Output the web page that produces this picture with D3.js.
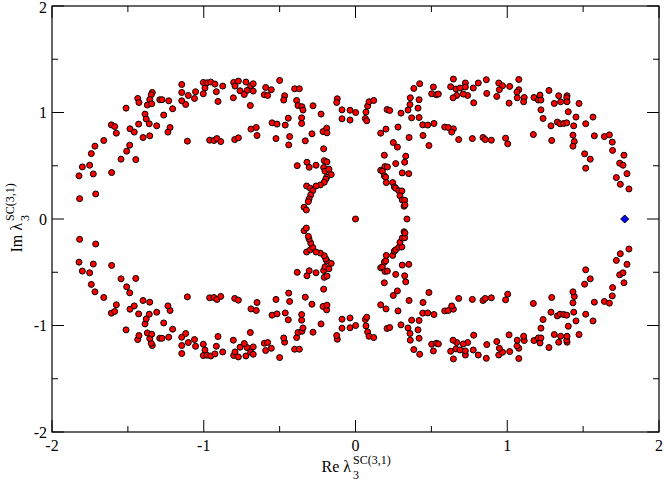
<!DOCTYPE html>
<html><head><meta charset="utf-8">
<script src="https://cdn.jsdelivr.net/npm/d3@7/dist/d3.min.js"></script>
<style>body{margin:0;background:#fff}svg{display:block}</style>
</head><body>
<svg id="chart" width="664" height="482"></svg>
<script>
// eigenvalues with Im > 0
const reUpper=[
-1.145,-1.339,-1.346,-1.435,-1.427,-1.356,-1.290,-1.275,-1.231,-1.372,
-1.343,-1.145,-1.102,-1.054,-1.061,-1.145,-1.119,-1.512,-1.205,-1.387,
-1.264,-1.379,-1.609,-1.587,-1.429,-1.359,-1.310,-1.222,-1.236,-1.486,
-1.458,-1.576,-1.400,-1.356,-1.659,-1.717,-1.488,-1.108,-1.741,-1.508,
-1.545,-1.448,-1.800,-1.752,-1.822,-1.728,-1.607,-1.712,-1.818,
-1.003,-0.979,-0.954,-0.926,-0.992,-1.003,-0.917,-0.906,-0.875,-0.803,
-0.772,-0.794,-0.722,-0.691,-0.674,-0.761,-0.715,-0.733,-0.674,-0.805,
-0.693,-0.592,-0.555,-0.601,-0.579,-0.500,-0.401,-0.370,-0.467,-0.473,
-0.388,-0.379,-0.353,-0.346,-0.280,-0.227,-0.120,-0.124,-0.089,-0.089,
-0.036,-0.036,-0.443,-0.355,-0.355,-0.550,-0.517,-0.463,-0.689,-0.654,
-0.649,-0.524,-0.434,-0.440,-0.331,-0.287,-0.214,-0.190,-0.188,-0.210,
-0.961,-0.933,-0.913,-0.888,-0.796,-0.772,
0.001,0.069,0.065,0.074,0.080,0.089,0.120,0.208,0.225,0.300,
0.384,0.423,0.361,0.359,0.419,0.412,0.346,0.370,0.419,0.443,
0.476,0.517,0.513,0.502,0.533,0.546,0.645,0.627,0.662,0.689,
0.724,0.724,0.739,0.710,0.667,0.643,0.776,0.809,0.862,0.865,
0.779,0.931,0.944,0.969,0.948,0.588,0.612,0.645,0.634,0.680,
0.770,0.840,0.855,0.895,0.989,0.166,0.201,0.280,0.353,0.445,
0.249,0.276,0.484,
1.016,1.076,1.076,1.064,1.066,1.012,1.112,1.108,1.176,1.205,
1.216,1.222,1.275,1.339,1.394,1.392,1.352,1.394,1.310,1.473,
1.222,1.402,1.236,1.453,1.565,1.330,1.348,1.372,1.392,1.288,
1.438,1.517,1.172,1.433,1.442,1.433,1.293,1.574,1.640,1.673,
1.692,1.003,1.694,1.510,1.547,1.517,1.769,1.741,1.763,1.789,
1.719,1.745,1.802,
-0.320,-0.384,-0.305,-0.260,-0.206,-0.188,-0.210,-0.201,-0.175,-0.160,
-0.190,-0.196,-0.206,-0.232,-0.260,-0.322,-0.298,-0.282,-0.295,-0.306,
-0.311,-0.339,-0.324,
0.190,0.331,0.324,0.265,0.194,0.210,0.166,0.177,0.308,0.351,
0.190,0.199,0.203,0.245,0.256,0.265,0.285,0.306,0.293,0.308,
0.324,0.320,0.326];
const imUpper=[
1.263,1.188,1.167,1.132,1.094,1.122,1.120,1.120,1.110,1.070,
1.082,1.188,1.160,1.195,1.132,1.110,1.075,1.041,1.035,0.985,
0.976,0.938,0.884,0.868,0.891,0.894,0.875,0.859,0.816,0.847,
0.816,0.806,0.765,0.781,0.737,0.684,0.693,0.731,0.614,0.637,
0.562,0.558,0.489,0.505,0.405,0.423,0.436,0.235,0.191,
1.282,1.279,1.286,1.267,1.230,1.176,1.195,1.104,1.248,1.282,
1.295,1.248,1.286,1.251,1.270,1.204,1.207,1.169,1.201,1.138,
1.066,1.235,1.214,1.167,1.160,1.301,1.223,1.223,1.157,1.117,
1.113,1.066,1.054,1.023,1.063,0.985,1.129,1.094,1.025,0.941,
1.021,0.929,0.947,0.950,0.897,0.903,0.891,0.882,0.844,0.859,
0.784,0.755,0.774,0.696,0.734,0.800,0.821,0.853,0.809,0.659,
0.740,0.737,0.755,0.727,0.746,0.762,
1.000,1.004,0.944,0.922,1.060,1.101,1.113,1.028,1.019,0.994,
1.226,1.270,1.138,1.075,1.120,1.041,1.023,0.950,0.953,0.884,
0.882,0.897,1.239,1.176,1.167,1.173,1.314,1.242,1.220,1.230,
1.277,1.239,1.160,1.173,1.160,1.138,1.230,1.277,1.308,1.179,
1.091,1.151,1.277,1.251,1.214,0.863,0.859,0.847,0.816,0.746,
0.755,0.765,0.746,0.740,0.759,0.806,0.844,0.863,0.765,0.784,
0.718,0.675,0.690,
1.245,1.310,1.214,1.192,1.138,1.088,1.141,1.101,1.141,1.117,
1.164,1.117,1.207,1.157,1.157,1.138,1.101,1.101,1.085,1.085,
1.025,1.007,0.944,0.957,0.957,0.910,0.894,0.897,0.903,0.875,
0.875,0.894,0.793,0.787,0.727,0.684,0.737,0.781,0.774,0.790,
0.722,0.706,0.644,0.612,0.562,0.477,0.599,0.524,0.505,0.426,
0.389,0.326,0.282,
0.533,0.501,0.486,0.505,0.548,0.536,0.483,0.449,0.468,0.417,
0.392,0.374,0.345,0.320,0.310,0.310,0.289,0.266,0.226,0.188,
0.163,0.110,0.085,
0.599,0.590,0.533,0.520,0.492,0.489,0.458,0.449,0.433,0.426,
0.405,0.392,0.342,0.342,0.301,0.289,0.266,0.263,0.219,0.179,
0.176,0.120,0.132];
// eigenvalues with Im < 0 (complex conjugate partners)
const reLower=[
-1.145,-1.339,-1.346,-1.435,-1.427,-1.356,-1.290,-1.275,-1.231,-1.372,
-1.343,-1.145,-1.102,-1.054,-1.061,-1.145,-1.119,-1.512,-1.205,-1.387,
-1.264,-1.379,-1.609,-1.587,-1.429,-1.359,-1.310,-1.222,-1.236,-1.486,
-1.458,-1.576,-1.400,-1.356,-1.659,-1.717,-1.488,-1.108,-1.741,-1.508,
-1.545,-1.448,-1.800,-1.752,-1.822,-1.728,-1.607,-1.712,-1.818,
-1.003,-0.979,-0.954,-0.926,-0.992,-1.003,-0.917,-0.906,-0.875,-0.803,
-0.772,-0.794,-0.722,-0.691,-0.674,-0.761,-0.715,-0.733,-0.674,-0.805,
-0.693,-0.592,-0.555,-0.601,-0.579,-0.500,-0.401,-0.370,-0.467,-0.473,
-0.388,-0.379,-0.353,-0.346,-0.280,-0.227,-0.120,-0.124,-0.089,-0.089,
-0.036,-0.036,-0.443,-0.355,-0.355,-0.550,-0.517,-0.463,-0.689,-0.654,
-0.649,-0.524,-0.434,-0.440,-0.331,-0.287,-0.214,-0.190,-0.188,-0.210,
-0.961,-0.933,-0.913,-0.888,-0.796,-0.772,
0.001,0.069,0.065,0.074,0.080,0.089,0.120,0.208,0.225,0.300,
0.384,0.423,0.361,0.359,0.419,0.412,0.346,0.370,0.419,0.443,
0.476,0.517,0.513,0.502,0.533,0.546,0.645,0.627,0.662,0.689,
0.724,0.724,0.739,0.710,0.667,0.643,0.776,0.809,0.862,0.865,
0.779,0.931,0.944,0.969,0.948,0.588,0.612,0.645,0.634,0.680,
0.770,0.840,0.855,0.895,0.989,0.166,0.201,0.280,0.353,0.445,
0.249,0.276,0.484,
1.016,1.076,1.076,1.064,1.066,1.012,1.112,1.108,1.176,1.205,
1.216,1.222,1.275,1.339,1.394,1.392,1.352,1.394,1.310,1.473,
1.222,1.402,1.236,1.453,1.565,1.330,1.348,1.372,1.392,1.288,
1.438,1.517,1.172,1.433,1.442,1.433,1.293,1.574,1.640,1.673,
1.692,1.003,1.694,1.510,1.547,1.517,1.769,1.741,1.763,1.789,
1.719,1.745,1.802,
-0.320,-0.384,-0.305,-0.260,-0.206,-0.188,-0.210,-0.201,-0.175,-0.160,
-0.190,-0.196,-0.206,-0.232,-0.260,-0.322,-0.298,-0.282,-0.295,-0.306,
-0.311,-0.339,-0.324,
0.190,0.331,0.324,0.265,0.194,0.210,0.166,0.177,0.308,0.351,
0.190,0.199,0.203,0.245,0.256,0.265,0.285,0.306,0.293,0.308,
0.324,0.320,0.326];
const imLower=[
-1.263,-1.188,-1.167,-1.132,-1.094,-1.122,-1.120,-1.120,-1.110,-1.070,
-1.082,-1.188,-1.160,-1.195,-1.132,-1.110,-1.075,-1.041,-1.035,-0.985,
-0.976,-0.938,-0.884,-0.868,-0.891,-0.894,-0.875,-0.859,-0.816,-0.847,
-0.816,-0.806,-0.765,-0.781,-0.737,-0.684,-0.693,-0.731,-0.614,-0.637,
-0.562,-0.558,-0.489,-0.505,-0.405,-0.423,-0.436,-0.235,-0.191,
-1.282,-1.279,-1.286,-1.267,-1.230,-1.176,-1.195,-1.104,-1.248,-1.282,
-1.295,-1.248,-1.286,-1.251,-1.270,-1.204,-1.207,-1.169,-1.201,-1.138,
-1.066,-1.235,-1.214,-1.167,-1.160,-1.301,-1.223,-1.223,-1.157,-1.117,
-1.113,-1.066,-1.054,-1.023,-1.063,-0.985,-1.129,-1.094,-1.025,-0.941,
-1.021,-0.929,-0.947,-0.950,-0.897,-0.903,-0.891,-0.882,-0.844,-0.859,
-0.784,-0.755,-0.774,-0.696,-0.734,-0.800,-0.821,-0.853,-0.809,-0.659,
-0.740,-0.737,-0.755,-0.727,-0.746,-0.762,
-1.000,-1.004,-0.944,-0.922,-1.060,-1.101,-1.113,-1.028,-1.019,-0.994,
-1.226,-1.270,-1.138,-1.075,-1.120,-1.041,-1.023,-0.950,-0.953,-0.884,
-0.882,-0.897,-1.239,-1.176,-1.167,-1.173,-1.314,-1.242,-1.220,-1.230,
-1.277,-1.239,-1.160,-1.173,-1.160,-1.138,-1.230,-1.277,-1.308,-1.179,
-1.091,-1.151,-1.277,-1.251,-1.214,-0.863,-0.859,-0.847,-0.816,-0.746,
-0.755,-0.765,-0.746,-0.740,-0.759,-0.806,-0.844,-0.863,-0.765,-0.784,
-0.718,-0.675,-0.690,
-1.245,-1.310,-1.214,-1.192,-1.138,-1.088,-1.141,-1.101,-1.141,-1.117,
-1.164,-1.117,-1.207,-1.157,-1.157,-1.138,-1.101,-1.101,-1.085,-1.085,
-1.025,-1.007,-0.944,-0.957,-0.957,-0.910,-0.894,-0.897,-0.903,-0.875,
-0.875,-0.894,-0.793,-0.787,-0.727,-0.684,-0.737,-0.781,-0.774,-0.790,
-0.722,-0.706,-0.644,-0.612,-0.562,-0.477,-0.599,-0.524,-0.505,-0.426,
-0.389,-0.326,-0.282,
-0.533,-0.501,-0.486,-0.505,-0.548,-0.536,-0.483,-0.449,-0.468,-0.417,
-0.392,-0.374,-0.345,-0.320,-0.310,-0.310,-0.289,-0.266,-0.226,-0.188,
-0.163,-0.110,-0.085,
-0.599,-0.590,-0.533,-0.520,-0.492,-0.489,-0.458,-0.449,-0.433,-0.426,
-0.405,-0.392,-0.342,-0.342,-0.301,-0.289,-0.266,-0.263,-0.219,-0.179,
-0.176,-0.120,-0.132];
// real eigenvalues
const reReal=[0.000,0.339];
const imReal=[0.000,0.000];
// highlighted eigenvalue (blue diamond)
const reSpecial=[1.774];
const imSpecial=[0.000];

const xMajor=[-2,-1,0,1,2];
const yMajor=[-2,-1,0,1,2];
const xMinor=[-1.5,-0.5,0.5,1.5];
const yMinor=[-1.5,-0.5,0.5,1.5];
const tickLabels=["-2","-1","0","1","2"];

const svg=d3.select("#chart");
const L=52,R=659,T=6,B=432;
const x=d3.scaleLinear().domain([-2,2]).range([L,R]);
const y=d3.scaleLinear().domain([-2,2]).range([B,T]);
const font="'Liberation Serif','Times New Roman',serif";

// ticks (inward on all four sides)
const tk=svg.append("g").attr("stroke","#000").attr("stroke-width",1);
const maj=12,minr=6;
xMajor.forEach(v=>{
  tk.append("line").attr("x1",x(v)).attr("x2",x(v)).attr("y1",B).attr("y2",B-maj);
  tk.append("line").attr("x1",x(v)).attr("x2",x(v)).attr("y1",T).attr("y2",T+maj);
});
xMinor.forEach(v=>{
  tk.append("line").attr("x1",x(v)).attr("x2",x(v)).attr("y1",B).attr("y2",B-minr);
  tk.append("line").attr("x1",x(v)).attr("x2",x(v)).attr("y1",T).attr("y2",T+minr);
});
yMajor.forEach(v=>{
  tk.append("line").attr("y1",y(v)).attr("y2",y(v)).attr("x1",L).attr("x2",L+maj);
  tk.append("line").attr("y1",y(v)).attr("y2",y(v)).attr("x1",R).attr("x2",R-maj);
});
yMinor.forEach(v=>{
  tk.append("line").attr("y1",y(v)).attr("y2",y(v)).attr("x1",L).attr("x2",L+minr);
  tk.append("line").attr("y1",y(v)).attr("y2",y(v)).attr("x1",R).attr("x2",R-minr);
});

// frame
svg.append("rect").attr("x",L).attr("y",T).attr("width",R-L).attr("height",B-T)
  .attr("fill","none").attr("stroke","#000").attr("stroke-width",1.2);

// tick labels
svg.append("g").selectAll("text").data(xMajor).join("text")
  .attr("x",d=>x(d)).attr("y",B+19).attr("text-anchor","middle")
  .attr("font-family",font).attr("font-size",16).text((d,i)=>tickLabels[i]);
svg.append("g").selectAll("text").data(yMajor).join("text")
  .attr("x",L-5).attr("y",d=>Math.max(y(d)+5.5,13)).attr("text-anchor","end")
  .attr("font-family",font).attr("font-size",16).text((d,i)=>tickLabels[i]);

// axis titles
const xt=svg.append("g").attr("transform","translate(351,472)");
xt.append("text").attr("x",0).attr("y",0).attr("text-anchor","end")
  .attr("font-family",font).attr("font-size",16).text("Re λ");
xt.append("text").attr("x",2).attr("y",-8).attr("font-family",font).attr("font-size",12).text("SC(3,1)");
xt.append("text").attr("x",2).attr("y",7).attr("font-family",font).attr("font-size",12).text("3");

const yt=svg.append("g").attr("transform","translate(22,223) rotate(-90)");
yt.append("text").attr("x",0).attr("y",0).attr("text-anchor","end")
  .attr("font-family",font).attr("font-size",16).text("Im λ");
yt.append("text").attr("x",2).attr("y",-8).attr("font-family",font).attr("font-size",12).text("SC(3,1)");
yt.append("text").attr("x",2).attr("y",7).attr("font-family",font).attr("font-size",12).text("3");

// points
const pts=[];
reUpper.forEach((v,i)=>pts.push([v,imUpper[i]]));
reLower.forEach((v,i)=>pts.push([v,imLower[i]]));
reReal.forEach((v,i)=>pts.push([v,imReal[i]]));
svg.append("g").selectAll("circle").data(pts).join("circle")
  .attr("cx",d=>x(d[0])).attr("cy",d=>y(d[1])).attr("r",3)
  .attr("fill","#ff0000").attr("stroke","#000").attr("stroke-width",1);

const sp=reSpecial.map((v,i)=>[v,imSpecial[i]]);
svg.append("g").selectAll("path").data(sp).join("path")
  .attr("transform",d=>`translate(${x(d[0])},${y(d[1])})`)
  .attr("d","M0,-4L4,0L0,4L-4,0Z")
  .attr("fill","#0000ff").attr("stroke","#000").attr("stroke-width",1);
</script>
</body></html>
